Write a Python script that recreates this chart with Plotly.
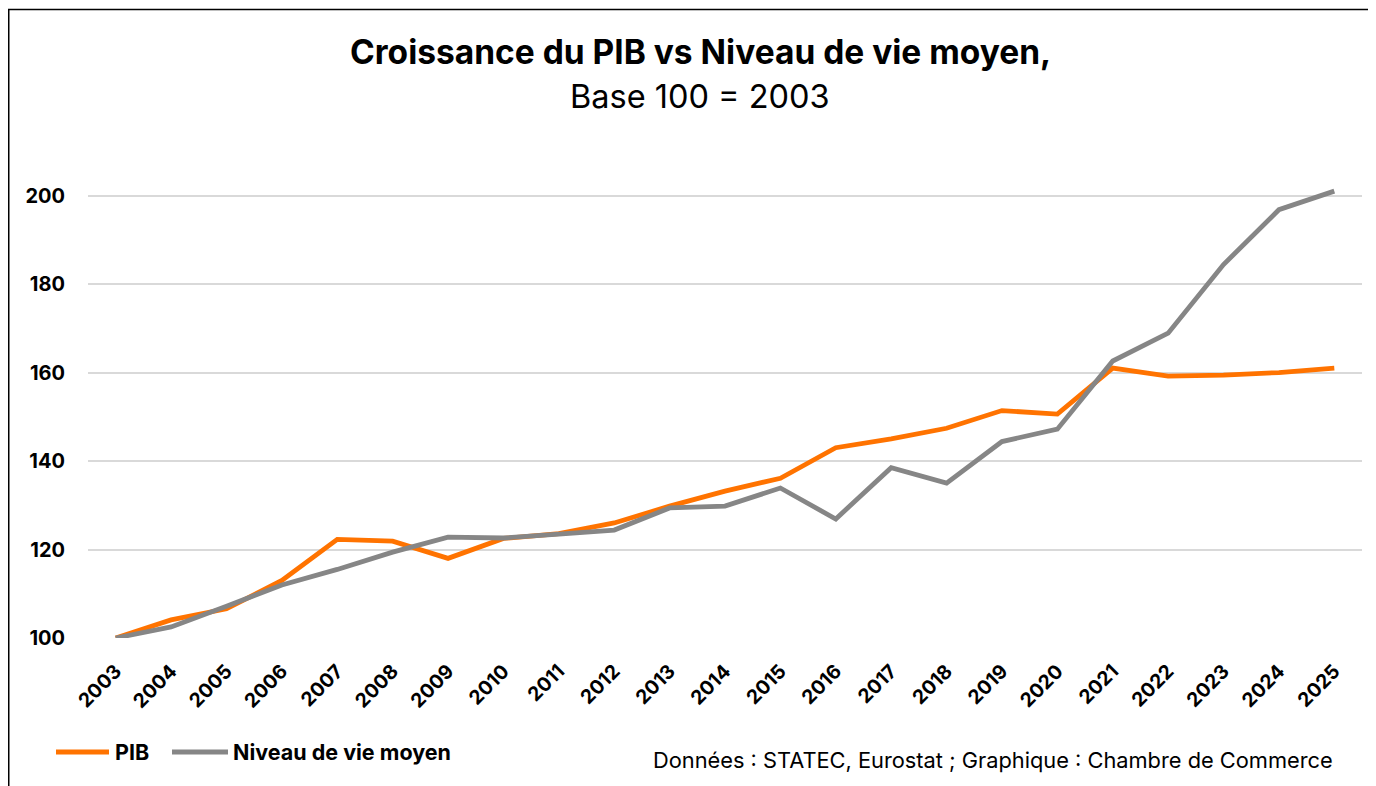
import plotly.graph_objects as go

years = [str(y) for y in range(2003, 2026)]
pib = [100, 104.1, 106.6, 113.0, 122.3, 121.9, 118.0, 122.5, 123.6, 126.0, 129.8,
       133.2, 136.1, 143.0, 145.0, 147.4, 151.4, 150.6, 161.0, 159.2, 159.4, 160.0, 161.0]
niveau = [100, 102.5, 107.2, 112.0, 115.5, 119.4, 122.8, 122.6, 123.5, 124.4, 129.4,
          129.8, 133.9, 126.9, 138.5, 135.0, 144.4, 147.2, 162.6, 168.9, 184.4, 196.8, 201.0]
y_ticks = [100, 120, 140, 160, 180, 200]
series_names = ["PIB", "Niveau de vie moyen"]
series_colors = ["#FF7300", "#868686"]

W, H = 1376, 786
OFF = 8  # page body margin
L, R, T, B = 88 - OFF, 1362 - OFF, 168.5 - OFF, 638 - OFF

def px_x(px):
    return (px - OFF - L) / (R - L)

def px_y(py):
    return (B - (py - OFF)) / (B - T)

FONT = "Inter"

fig = go.Figure()
for name, vals, col in zip(series_names, [pib, niveau], series_colors):
    fig.add_trace(go.Scatter(x=years, y=vals, mode="lines", name=name,
                             line=dict(color=col, width=4.8), showlegend=False))

fig.update_layout(
    width=W, height=H,
    margin=dict(l=L, r=W - R, t=T, b=H - B),
    paper_bgcolor="white", plot_bgcolor="white",
    font=dict(family=FONT, color="black"),
    xaxis=dict(type="category", range=[-0.5, 22.5], showgrid=False, zeroline=False,
               showline=False, ticks="", tickangle=-45, ticklabelstandoff=17,
               tickfont=dict(family=FONT, size=19.5, color="black", weight="bold")),
    yaxis=dict(range=[100, 206], tickvals=y_ticks, showgrid=True, gridcolor="#d9d9d9",
               gridwidth=1.5, zeroline=False, showline=False, ticks="",
               ticklabelstandoff=22,
               tickfont=dict(family=FONT, size=20, color="black", weight="bold")),
)

fig.add_annotation(text="<b>Croissance du PIB vs Niveau de vie moyen,</b>", xref="paper", yref="paper",
                   x=px_x(700), y=px_y(51), xanchor="center", yanchor="middle", showarrow=False,
                   font=dict(family=FONT, size=33.5, color="black"))
fig.add_annotation(text="Base 100 = 2003", xref="paper", yref="paper",
                   x=px_x(700), y=px_y(96), xanchor="center", yanchor="middle", showarrow=False,
                   font=dict(family=FONT, size=32.5, color="black"))
fig.add_annotation(text="Données : STATEC, Eurostat ; Graphique : Chambre de Commerce", xref="paper", yref="paper",
                   x=px_x(1335), y=px_y(760), xanchor="right", yanchor="middle", showarrow=False,
                   font=dict(family=FONT, size=21.8, color="black"))

# manual legend
leg_lines = [(56, 109), (172, 228)]
leg_text_x = [113, 231]
for name, col, (x0, x1), tx in zip(series_names, series_colors, leg_lines, leg_text_x):
    fig.add_shape(type="line", xref="paper", yref="paper",
                  x0=px_x(x0), x1=px_x(x1), y0=px_y(752), y1=px_y(752),
                  line=dict(color=col, width=5))
    fig.add_annotation(text="<b>" + name + "</b>", xref="paper", yref="paper",
                       x=px_x(tx), y=px_y(752), xanchor="left", yanchor="middle", showarrow=False,
                       font=dict(family=FONT, size=21.5, color="black"))

fig.add_shape(type="rect", xref="paper", yref="paper",
              x0=px_x(8.75), x1=px_x(1400), y0=px_y(8.75), y1=px_y(820),
              line=dict(color="black", width=1.5), fillcolor="rgba(0,0,0,0)", layer="below")

fig.write_html("out.html")
